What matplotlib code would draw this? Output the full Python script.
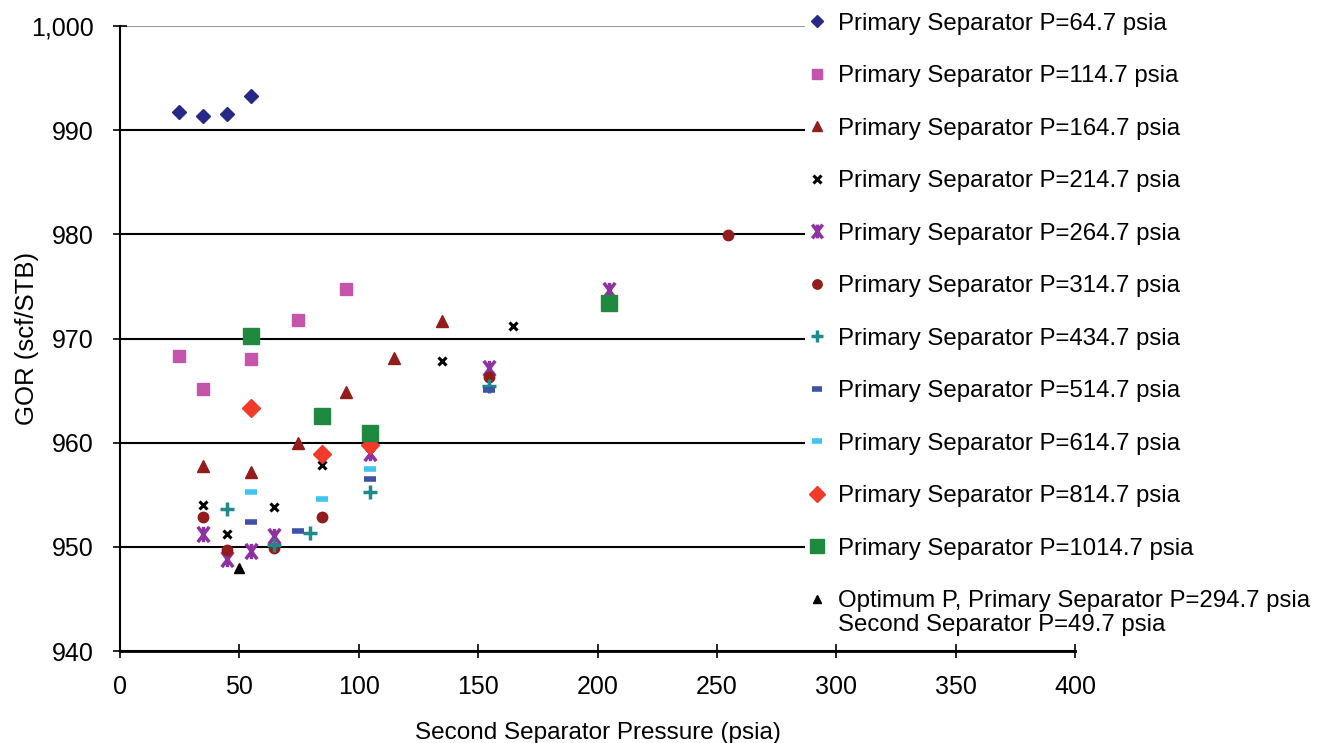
import matplotlib
matplotlib.use('Agg')
import matplotlib.pyplot as plt
from matplotlib.path import Path
from matplotlib.ticker import FuncFormatter

plt.rcParams['font.family'] = ['Liberation Sans', 'DejaVu Sans']

# second separator pressure (psia) and GOR (scf/STB) for each primary separator pressure
x_64 = [24.7, 34.7, 44.7, 54.7]
y_64 = [991.7, 991.4, 991.6, 993.3]

x_114 = [24.7, 34.7, 54.7, 74.7, 94.7]
y_114 = [968.3, 965.2, 968.0, 971.8, 974.8]

x_164 = [34.7, 54.7, 74.7, 94.7, 114.7, 134.7]
y_164 = [957.8, 957.2, 960.0, 964.9, 968.1, 971.7]

x_214 = [34.7, 44.7, 64.7, 84.7, 104.7, 134.7, 164.7]
y_214 = [954.0, 951.2, 953.8, 957.9, 961.2, 967.8, 971.2]

x_264 = [34.7, 44.7, 54.7, 64.7, 104.7, 154.7, 204.7]
y_264 = [951.2, 948.8, 949.6, 951.0, 959.0, 967.2, 974.7]

x_314 = [34.7, 44.7, 64.7, 84.7, 104.7, 154.7, 254.7]
y_314 = [952.9, 949.7, 949.9, 952.9, 959.6, 966.3, 979.9]

x_434 = [44.7, 64.7, 79.7, 104.7, 154.7]
y_434 = [953.6, 950.2, 951.3, 955.3, 965.4]

x_514 = [54.7, 74.7, 104.7, 154.7]
y_514 = [952.4, 951.5, 956.5, 965.1]

x_614 = [54.7, 84.7, 104.7]
y_614 = [955.3, 954.6, 957.5]

x_814 = [54.7, 84.7, 104.7]
y_814 = [963.3, 958.9, 959.8]

x_1014 = [54.7, 84.7, 104.7, 204.7]
y_1014 = [970.2, 962.6, 960.9, 973.4]

x_opt = [49.7]
y_opt = [948.0]

labels = [
    'Primary Separator P=64.7 psia',
    'Primary Separator P=114.7 psia',
    'Primary Separator P=164.7 psia',
    'Primary Separator P=214.7 psia',
    'Primary Separator P=264.7 psia',
    'Primary Separator P=314.7 psia',
    'Primary Separator P=434.7 psia',
    'Primary Separator P=514.7 psia',
    'Primary Separator P=614.7 psia',
    'Primary Separator P=814.7 psia',
    'Primary Separator P=1014.7 psia',
    'Optimum P, Primary Separator P=294.7 psia',
]
label_extra = 'Second Separator P=49.7 psia'

# asterisk like marker (vertical bar + X)
star = Path([(0, -1), (0, 1), (-0.75, -1), (0.75, 1), (-0.75, 1), (0.75, -1)],
            [Path.MOVETO, Path.LINETO, Path.MOVETO, Path.LINETO, Path.MOVETO, Path.LINETO])

fig = plt.figure(figsize=(13.17, 7.43), dpi=100)
ax = fig.add_axes([0.0911, 0.1238, 0.7252, 0.8412])

ax.plot(x_64, y_64, ls='none', marker='D', ms=7, color='#262a86', label=labels[0])
ax.plot(x_114, y_114, ls='none', marker='s', ms=8.5, color='#c455ab', label=labels[1])
ax.plot(x_164, y_164, ls='none', marker='^', ms=8, color='#931c1c', label=labels[2])
ax.plot(x_214, y_214, ls='none', marker='x', ms=6, mew=2.2, color='black', label=labels[3])
ax.plot(x_264, y_264, ls='none', marker=star, ms=11, mew=2.5, color='#8d32a0', label=labels[4])
ax.plot(x_314, y_314, ls='none', marker='o', ms=7.5, color='#931c1c', label=labels[5])
ax.plot(x_434, y_434, ls='none', marker='+', ms=10, mew=2.5, color='#1f8a8a', label=labels[6])
ax.plot(x_514, y_514, ls='none', marker='_', ms=8, mew=4, color='#3f51a8', label=labels[7])
ax.plot(x_614, y_614, ls='none', marker='_', ms=8, mew=4, color='#40c4f0', label=labels[8])
ax.plot(x_814, y_814, ls='none', marker='D', ms=9, color='#f23a2a', label=labels[9])
ax.plot(x_1014, y_1014, ls='none', marker='s', ms=11, color='#1f8a3f', label=labels[10])
ax.plot(x_opt, y_opt, ls='none', marker='^', ms=7, color='black', label=labels[11])

ax.set_xlim(0, 400)
ax.set_ylim(940, 1000)
ax.set_xticks(range(0, 401, 50))
ax.set_yticks(range(940, 1001, 10))
ax.yaxis.set_major_formatter(FuncFormatter(lambda v, p: f'{int(v):,}'))

ax.grid(axis='y', color='black', lw=1.5)
ax.get_ygridlines()[-1].set_color('#999999')
ax.set_axisbelow(True)

ax.spines['top'].set_visible(False)
ax.spines['right'].set_visible(False)
ax.spines['left'].set_linewidth(1.5)
ax.spines['bottom'].set_linewidth(2)
ax.tick_params(direction='inout', length=10, width=1.2, labelsize=18)
ax.tick_params(axis='x', pad=12)
ax.tick_params(axis='y', pad=14)

ax.set_xlabel('Second Separator Pressure (psia)', fontsize=17.5, labelpad=17)
ax.set_ylabel('GOR (scf/STB)', fontsize=18.5, labelpad=-6)

leg = fig.legend(loc='upper left', bbox_to_anchor=(0.611, 0.987), fontsize=17.3,
                 frameon=True, facecolor='white', edgecolor='none', framealpha=1,
                 borderaxespad=0, borderpad=0.12, handlelength=0.8, handletextpad=0.45,
                 labelspacing=1.27, markerscale=0.9, fancybox=False)

# second line of the last legend entry, placed under its first line
fig.canvas.draw()
t = leg.get_texts()[-1]
bb = t.get_window_extent().transformed(fig.transFigure.inverted())
fig.text(bb.x0, bb.y0 - 0.003, label_extra, fontsize=17.3, va='top', ha='left', zorder=10)

fig.savefig('out.png', dpi=100)
